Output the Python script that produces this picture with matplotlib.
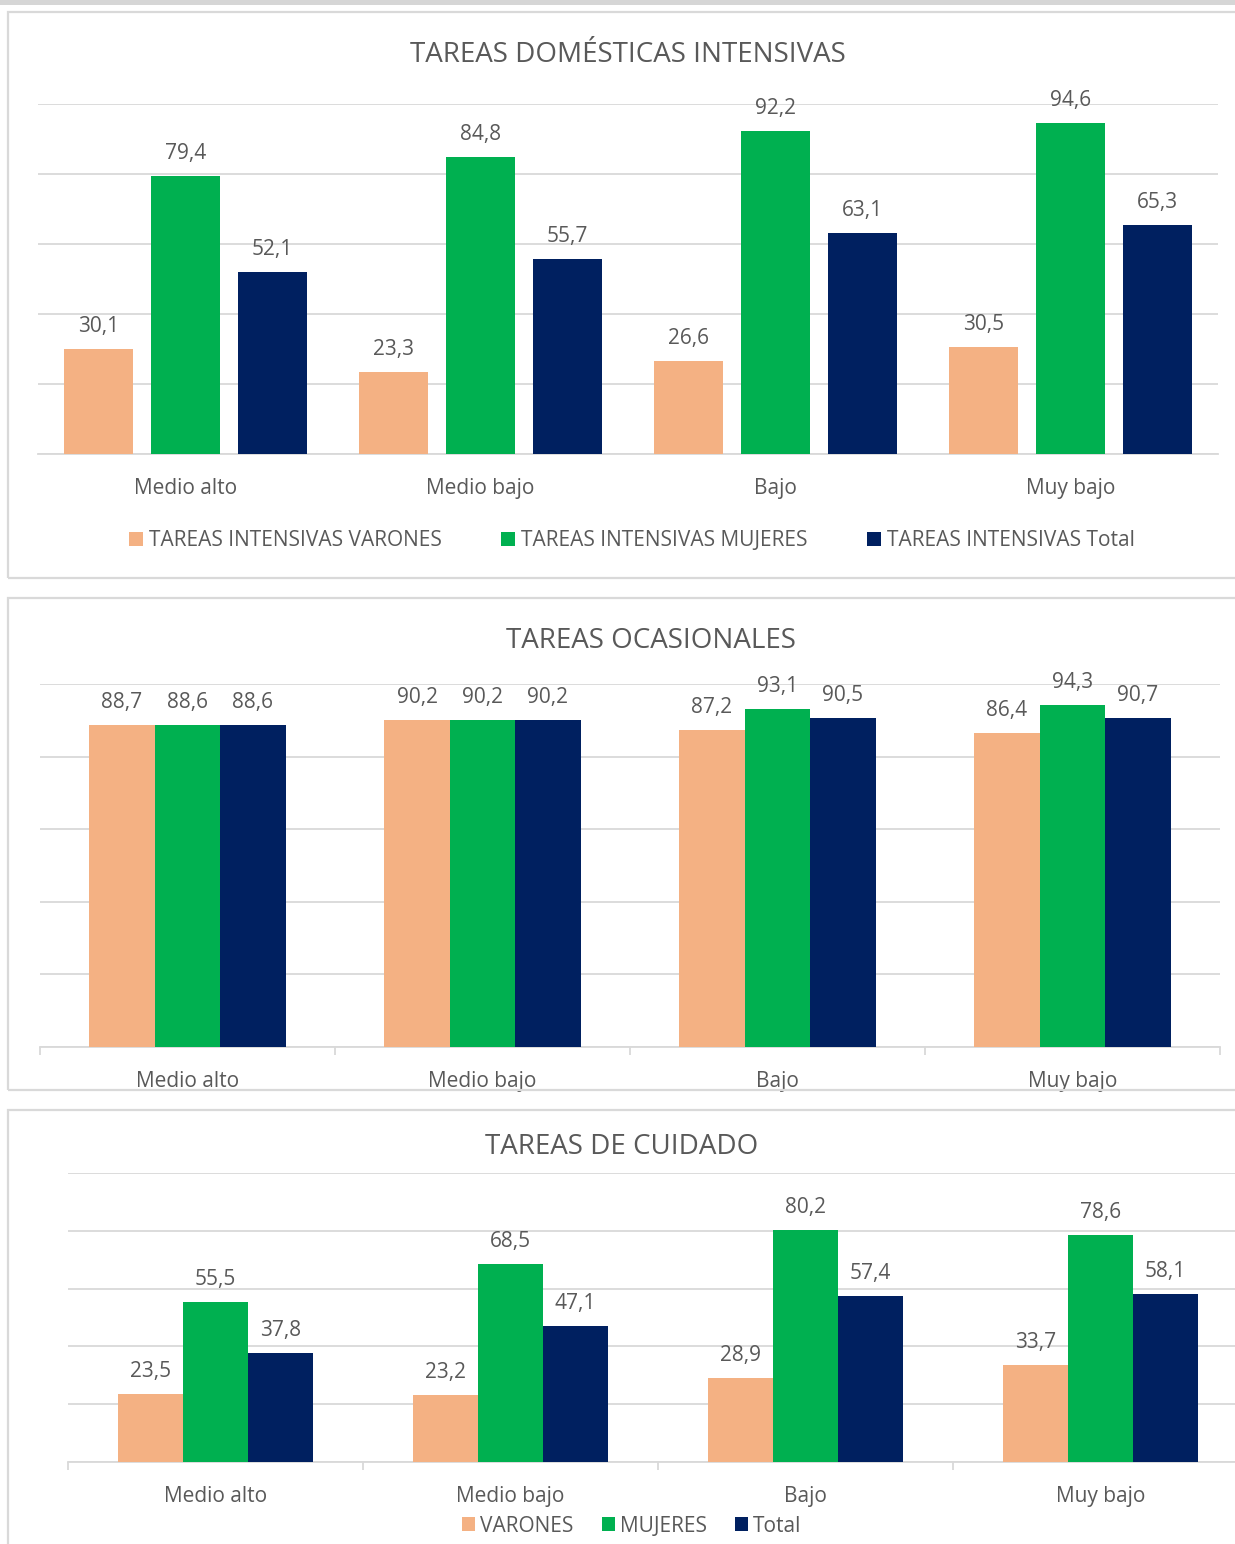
import matplotlib
matplotlib.use('Agg')
import matplotlib.pyplot as plt
from matplotlib.patches import Rectangle
import numpy as np

plt.rcParams['font.family'] = ['Open Sans', 'DejaVu Sans']

categories = ['Medio alto', 'Medio bajo', 'Bajo', 'Muy bajo']

intensivas_varones = [30.1, 23.3, 26.6, 30.5]
intensivas_mujeres = [79.4, 84.8, 92.2, 94.6]
intensivas_total = [52.1, 55.7, 63.1, 65.3]

ocasionales_varones = [88.7, 90.2, 87.2, 86.4]
ocasionales_mujeres = [88.6, 90.2, 93.1, 94.3]
ocasionales_total = [88.6, 90.2, 90.5, 90.7]

cuidado_varones = [23.5, 23.2, 28.9, 33.7]
cuidado_mujeres = [55.5, 68.5, 80.2, 78.6]
cuidado_total = [37.8, 47.1, 57.4, 58.1]

legend_intensivas = ['TAREAS INTENSIVAS VARONES', 'TAREAS INTENSIVAS MUJERES',
                     'TAREAS INTENSIVAS Total']
legend_cuidado = ['VARONES', 'MUJERES', 'Total']
titles = ['TAREAS DOMÉSTICAS INTENSIVAS', 'TAREAS OCASIONALES', 'TAREAS DE CUIDADO']

colors = ['#F4B183', '#00B050', '#002060']
TXT = '#595959'
GRID = '#d9d9d9'

W, H = 1235, 1544
fig = plt.figure(figsize=(W / 100, H / 100), dpi=100)


def fx(px):
    return px / W


def fy(py):
    return 1 - py / H


# top strip
fig.patches.append(Rectangle((0, fy(5)), 1, 5 / H, transform=fig.transFigure,
                             facecolor='#d6d6d6', edgecolor='none'))
# panel borders
for top, bottom in [(12, 578), (598, 1090), (1110, 1570)]:
    fig.patches.append(Rectangle((fx(8), fy(bottom)), fx(1250 - 8), (bottom - top) / H,
                                 transform=fig.transFigure, fill=False,
                                 edgecolor=GRID, lw=1.6))


def panel(rect_px, series, labels, width, offset, boundary_ticks):
    x0, y0, x1, y1 = rect_px
    ax = fig.add_axes([fx(x0), fy(y1), fx(x1 - x0), (y1 - y0) / H])
    x = np.arange(len(categories))
    for k, (vals, c, lab) in enumerate(zip(series, colors, labels)):
        bars = ax.bar(x + (k - 1) * offset, vals, width, color=c, zorder=3, label=lab)
        for b, v in zip(bars, vals):
            ax.annotate(f'{v:.1f}'.replace('.', ','),
                        (b.get_x() + b.get_width() / 2, v),
                        xytext=(0, 17), textcoords='offset pixels',
                        ha='center', va='baseline', fontsize=15, color=TXT)
    ax.set_xlim(-0.5, 3.5)
    ax.set_ylim(0, 100)
    ax.set_yticks(np.arange(0, 101, 20))
    ax.yaxis.grid(True, color=GRID, lw=1.3)
    ax.set_axisbelow(True)
    ax.tick_params(axis='y', length=0, labelleft=False)
    ax.set_xticks(x, categories)
    ax.tick_params(axis='x', length=0, pad=17, labelsize=15, labelcolor=TXT)
    if boundary_ticks:
        ax.set_xticks(np.arange(-0.5, 3.6, 1), minor=True)
        ax.tick_params(axis='x', which='minor', length=6, color=GRID, width=1.3,
                       direction='out')
    for s in ['top', 'left', 'right']:
        ax.spines[s].set_visible(False)
    ax.spines['bottom'].set_color(GRID)
    ax.spines['bottom'].set_linewidth(1.3)
    ax.set_facecolor('none')
    return ax


ax1 = panel((38, 104, 1218, 454),
            [intensivas_varones, intensivas_mujeres, intensivas_total],
            legend_intensivas, 0.237, 0.295, False)
ax2 = panel((40, 684, 1220, 1047),
            [ocasionales_varones, ocasionales_mujeres, ocasionales_total],
            ['VARONES', 'MUJERES', 'Total'], 0.222, 0.222, True)
ax3 = panel((68, 1173, 1248, 1462),
            [cuidado_varones, cuidado_mujeres, cuidado_total],
            legend_cuidado, 0.22, 0.22, True)

for (tx, ty), t in zip([(628, 55), (651, 641), (622, 1147)], titles):
    fig.text(fx(tx), fy(ty), t, ha='center', va='center', fontsize=20, color=TXT)

h1, l1 = ax1.get_legend_handles_labels()
fig.legend(h1, l1, loc='center', bbox_to_anchor=(fx(632), fy(541)), ncol=3,
           frameon=False, fontsize=15, handlelength=0.67, handleheight=0.67,
           handletextpad=0.3, columnspacing=2.85, labelcolor=TXT,
           borderpad=0, borderaxespad=0)

h3, l3 = ax3.get_legend_handles_labels()
fig.legend(h3, l3, loc='center', bbox_to_anchor=(fx(632), fy(1526)), ncol=3,
           frameon=False, fontsize=15, handlelength=0.62, handleheight=0.62,
           handletextpad=0.25, columnspacing=1.35, labelcolor=TXT,
           borderpad=0, borderaxespad=0)

fig.savefig('out.png', dpi=100)
